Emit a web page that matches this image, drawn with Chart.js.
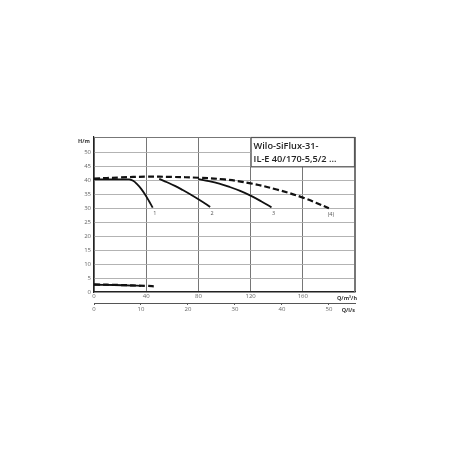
<!DOCTYPE html>
<html>
<head>
<meta charset="utf-8">
<script src="https://cdn.jsdelivr.net/npm/chart.js@4"></script>
<style>
	html, body { margin: 0; padding: 0; background: #fff; }
	.chart-wrap { width: 450px; height: 450px; position: relative; }
</style>
</head>
<body>
<div class="chart-wrap"><canvas class="pump-chart"></canvas></div>
<script>
// max speed curve (dashed)
const maxQ = [0, 20, 40, 60, 80, 100, 120, 140, 160, 180];
const maxH = [40.6, 41.0, 41.3, 41.2, 40.9, 40.3, 38.9, 36.7, 33.8, 30.0];

// control curves 1, 2, 3
const q1 = [0, 10, 20, 27, 30, 33, 36, 39, 42, 45];
const h1 = [40.3, 40.3, 40.3, 40.3, 39.8, 38.6, 37.0, 35.0, 32.7, 30.2];
const q2 = [50, 56, 62, 68, 74, 80, 86, 89];
const h2 = [40.5, 39.3, 38.0, 36.5, 34.9, 33.2, 31.4, 30.4];
const q3 = [80, 88, 96, 104, 112, 120, 128, 136];
const h3 = [40.4, 39.7, 38.8, 37.6, 36.2, 34.5, 32.5, 30.3];

// NPSH
const npshQ = [0, 15, 30, 36];
const npshH = [2.6, 2.5, 2.3, 2.2];
const npshMaxQ = [0, 20, 40, 47];
const npshMaxH = [2.7, 2.5, 2.2, 2.0];

const curveLabels = ['1', '2', '3', '(4)'];
const yTicks = [0, 5, 10, 15, 20, 25, 30, 35, 40, 45, 50];
const xTicks = [0, 40, 80, 120, 160];
const lsTicks = [0, 10, 20, 30, 40, 50];
const titleLines = ['Wilo-SiFlux-31-', 'IL-E 40/170-5,5/2 ...'];

const toPoints = function (xs, ys) {
	return xs.map((x, i) => ({ x: x, y: ys[i] }));
};

const solid = function (xs, ys) {
	return {
		data: toPoints(xs, ys),
		borderColor: '#111',
		borderWidth: 1.8,
		pointRadius: 0,
		tension: 0.4,
		fill: false,
	};
};
const dashed = function (xs, ys) {
	return {
		data: toPoints(xs, ys),
		borderColor: '#111',
		borderWidth: 2.2,
		borderDash: [6, 3],
		pointRadius: 0,
		tension: 0.4,
		fill: false,
	};
};

const font = "'Open Sans', 'DejaVu Sans', sans-serif";

// frame, title box, axis names and curve numbers
const decoPlugin = {
	id: 'deco',
	beforeDatasetsDraw(chart) {
		const ctx = chart.ctx;
		const a = chart.chartArea;
		const x = chart.scales.x;
		const y = chart.scales.y;
		ctx.save();
		ctx.strokeStyle = '#777';
		ctx.lineWidth = 1;
		ctx.beginPath();
		ctx.moveTo(a.left, a.top + 0.5);
		ctx.lineTo(a.right, a.top + 0.5);
		ctx.moveTo(a.right - 0.5, a.top);
		ctx.lineTo(a.right - 0.5, a.bottom);
		ctx.stroke();

		// title box
		const bx = x.getPixelForValue(120);
		const by = y.getPixelForValue(45);
		ctx.fillStyle = '#fff';
		ctx.fillRect(bx, a.top, a.right - bx, by - a.top);
		ctx.strokeStyle = '#555';
		ctx.lineWidth = 1.2;
		ctx.strokeRect(bx + 0.5, a.top + 0.5, a.right - bx - 1, by - a.top);
		ctx.fillStyle = '#222';
		ctx.font = '600 9.2px ' + font;
		ctx.textAlign = 'left';
		ctx.textBaseline = 'middle';
		ctx.fillText(titleLines[0], bx + 3, a.top + 9);
		ctx.fillText(titleLines[1], bx + 3, a.top + 22);
		ctx.restore();
	},
	afterDraw(chart) {
		const ctx = chart.ctx;
		const a = chart.chartArea;
		const x = chart.scales.x;
		const y = chart.scales.y;
		ctx.save();
		ctx.fillStyle = '#333';
		ctx.font = 'bold 5.5px ' + font;
		ctx.textBaseline = 'middle';
		ctx.textAlign = 'right';
		ctx.fillText('H/m', a.left - 4, a.top + 4);
		ctx.fillText('Q/m³/h', a.right + 2, a.bottom + 6);
		ctx.fillText('Q/l/s', a.right, a.bottom + 18);

		// numbers under curve ends
		ctx.fillStyle = '#555';
		ctx.font = '5.5px ' + font;
		ctx.textAlign = 'center';
		const ends = [
			[q1[q1.length - 1], h1[h1.length - 1]],
			[q2[q2.length - 1], h2[h2.length - 1]],
			[q3[q3.length - 1], h3[h3.length - 1]],
			[maxQ[maxQ.length - 1], maxH[maxH.length - 1]],
		];
		ends.forEach((e, i) => {
			ctx.fillText(curveLabels[i], x.getPixelForValue(e[0]) + 2, y.getPixelForValue(e[1]) + 6);
		});
		ctx.restore();
	},
};

const createPumpChart = function () {
	const data = {
		datasets: [
			dashed(maxQ, maxH),
			solid(q1, h1),
			solid(q2, h2),
			solid(q3, h3),
			dashed(npshMaxQ, npshMaxH),
			solid(npshQ, npshH),
		],
	};

	const config = {
		type: 'line',
		data: data,
		options: {
			responsive: true,
			maintainAspectRatio: false,
			animation: false,
			layout: {
				padding: { left: 0, right: 95, top: 137, bottom: 133 },
			},
			plugins: {
				legend: { display: false },
				tooltip: { enabled: false },
			},
			scales: {
				x: {
					type: 'linear',
					position: 'bottom',
					min: 0,
					max: 200,
					afterBuildTicks: (s) => { s.ticks = xTicks.concat([200]).map((v) => ({ value: v })); },
					ticks: {
						color: '#666',
						font: { family: font, size: 6 },
						padding: 1,
						maxRotation: 0,
						callback: (v) => (xTicks.includes(v) ? String(v) : ''),
					},
					grid: { color: '#666', lineWidth: 0.9, tickLength: 0 },
					border: { color: '#222', width: 1.2 },
					afterFit: (s) => { s.height = 11; },
				},
				x2: {
					type: 'linear',
					position: 'bottom',
					min: 0,
					max: 200 / 3.6,
					afterBuildTicks: (s) => { s.ticks = lsTicks.map((v) => ({ value: v })); },
					ticks: {
						color: '#666',
						font: { family: font, size: 6 },
						padding: 1,
						maxRotation: 0,
					},
					grid: { drawOnChartArea: false, tickLength: 2, color: '#555' },
					border: { color: '#555', width: 1 },
					afterFit: (s) => { s.height = 14; },
				},
				y: {
					min: 0,
					max: 55.5,
					afterBuildTicks: (s) => { s.ticks = yTicks.map((v) => ({ value: v })); },
					ticks: {
						color: '#666',
						font: { family: font, size: 6 },
						padding: 3,
					},
					grid: { color: '#aaa', lineWidth: 0.9, tickLength: 0 },
					border: { color: '#222', width: 1.2 },
					afterFit: (s) => { s.width = 94; },
				},
			},
		},
		plugins: [decoPlugin],
	};

	const ctx = document.querySelector('.pump-chart');
	const myChart = new Chart(ctx, config);
};

const init = function () {
	createPumpChart();
};
document.addEventListener('DOMContentLoaded', init);
</script>
</body>
</html>
